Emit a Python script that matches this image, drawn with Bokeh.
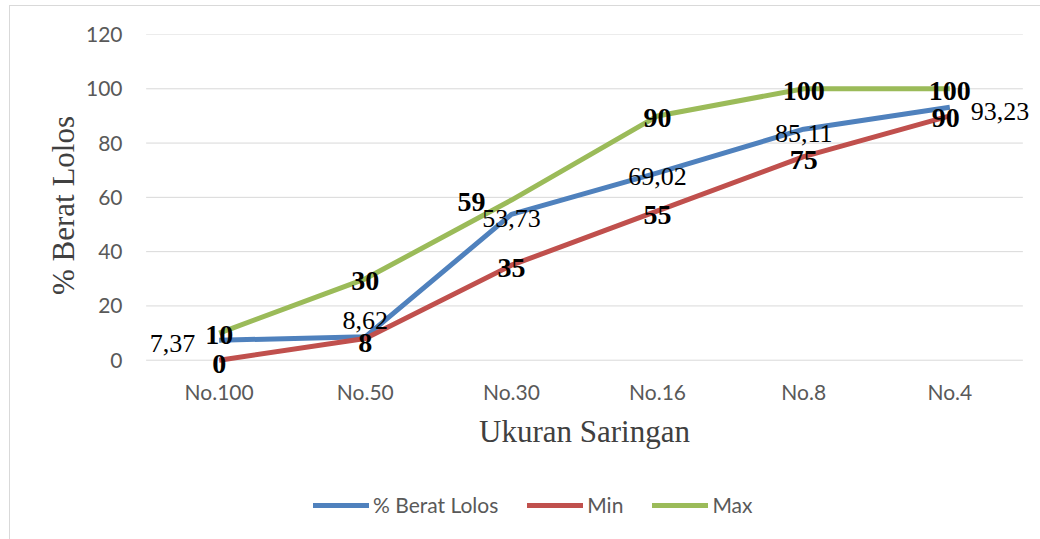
from bokeh.plotting import figure
from bokeh.layouts import column
from bokeh.models import ColumnDataSource, FactorRange, Range1d, Legend, LegendItem, LabelSet
from bokeh.embed import file_html
from bokeh.resources import INLINE

categories = ["No.100", "No.50", "No.30", "No.16", "No.8", "No.4"]
berat_lolos = [7.37, 8.62, 53.73, 69.02, 85.11, 93.23]
min_vals = [0, 8, 35, 55, 75, 90]
max_vals = [10, 30, 59, 90, 100, 100]
y_ticks = [0, 20, 40, 60, 80, 100, 120]
series_names = ["% Berat Lolos", "Min", "Max"]

BLUE = "#4F81BD"
RED = "#C0504D"
GREEN = "#9BBB59"
BORDER = "1px solid #D9D9D9"

p = figure(
    x_range=FactorRange(*categories, range_padding=0.1, range_padding_units="absolute"),
    y_range=Range1d(-6, 120),
    width=1030, height=464,
    frame_width=905, frame_height=341,
    output_backend="svg", toolbar_location=None,
    min_border_left=121, min_border_right=4, min_border_top=28, min_border_bottom=95,
)
p.outline_line_color = None
p.background_fill_color = "white"
p.border_fill_color = "white"
p.styles = {"border-left": BORDER, "border-top": BORDER,
            "margin-left": "9px", "margin-top": "5px"}

# horizontal gridlines spanning exactly the category band
grid_src = ColumnDataSource(dict(
    x0=[(categories[0], -0.5)] * len(y_ticks),
    x1=[(categories[-1], 0.5)] * len(y_ticks),
    y=y_ticks,
))
p.segment(x0="x0", y0="y", x1="x1", y1="y", source=grid_src, line_color="#D9D9D9", line_width=1)

p.line(categories, berat_lolos, line_color=BLUE, line_width=5, line_join="round")
p.line(categories, min_vals, line_color=RED, line_width=5, line_join="round")
p.line(categories, max_vals, line_color=GREEN, line_width=5, line_join="round")

# label styling (offsets in screen pixels, positive y = up)
blue_src = ColumnDataSource(dict(
    x=categories, y=berat_lolos,
    t=[f"{v:.2f}".replace(".", ",") for v in berat_lolos],
    align=["right", "center", "center", "center", "center", "left"],
    xo=[-24, 0, 0, 0, 0, 21],
    yo=[-3, 16, -4, -4, -4, -4],
))
max_src = ColumnDataSource(dict(
    x=categories, y=max_vals, t=[str(v) for v in max_vals],
    xo=[0, 0, -40, 0, 0, 0], yo=[-2, -2, -2, -2, -2, -2],
))
min_src = ColumnDataSource(dict(
    x=categories, y=min_vals, t=[str(v) for v in min_vals],
    xo=[0, 0, 0, 0, 0, -4], yo=[-4, -4, -3, -4, -3, -2],
))

for src, bold, size in ((blue_src, False, "26px"), (max_src, True, "28px"), (min_src, True, "28px")):
    p.add_layout(LabelSet(
        x="x", y="y", text="t", source=src,
        x_offset="xo", y_offset="yo",
        text_align="align" if src is blue_src else "center",
        text_baseline="middle",
        text_font="Liberation Serif",
        text_font_style="bold" if bold else "normal",
        text_font_size=size, text_color="black",
    ))

# axes
p.yaxis.ticker = y_ticks
p.yaxis.axis_line_color = None
p.yaxis.major_tick_line_color = None
p.yaxis.minor_tick_line_color = None
p.yaxis.major_label_text_font = "Lato"
p.yaxis.major_label_text_font_size = "21px"
p.yaxis.major_label_text_color = "#595959"
p.yaxis.major_label_standoff = 3
p.yaxis.axis_label = "% Berat Lolos"
p.yaxis.axis_label_text_font = "Liberation Serif"
p.yaxis.axis_label_text_font_style = "normal"
p.yaxis.axis_label_text_font_size = "31px"
p.yaxis.axis_label_text_color = "#404040"
p.yaxis.axis_label_standoff = 2

p.xaxis.axis_line_color = None
p.xaxis.major_tick_line_color = None
p.xaxis.minor_tick_line_color = None
p.xaxis.major_label_text_font = "Lato"
p.xaxis.major_label_text_font_size = "21px"
p.xaxis.major_label_text_color = "#595959"
p.xaxis.major_label_standoff = -4
p.xaxis.axis_label = "Ukuran Saringan"
p.xaxis.axis_label_text_font = "Liberation Serif"
p.xaxis.axis_label_text_font_style = "normal"
p.xaxis.axis_label_text_font_size = "31px"
p.xaxis.axis_label_text_color = "#404040"
p.xaxis.axis_label_standoff = 7

p.xgrid.grid_line_color = None
p.ygrid.grid_line_color = None

# legend strip below the chart
lg = figure(
    width=1030, height=69,
    x_range=Range1d(0, 1), y_range=Range1d(0, 1),
    x_axis_type=None, y_axis_type=None,
    output_backend="svg", toolbar_location=None,
    min_border=0,
)
lg.outline_line_color = None
lg.background_fill_color = "white"
lg.border_fill_color = "white"
lg.xgrid.grid_line_color = None
lg.ygrid.grid_line_color = None
lg.styles = {"border-left": BORDER, "margin-left": "9px"}

items = []
nan = float("nan")
for name, color in zip(series_names, [BLUE, RED, GREEN]):
    r = lg.line(x=[nan], y=[nan], line_color=color, line_width=5, line_cap="round")
    items.append(LegendItem(label=name, renderers=[r]))

legend = Legend(
    items=items,
    orientation="horizontal",
    location=(182, 22),
    glyph_width=56, glyph_height=20,
    label_text_font="Lato", label_text_font_size="21px", label_text_color="#595959",
    label_standoff=4, spacing=29, padding=0, margin=0,
    border_line_alpha=0, background_fill_alpha=0,
)
lg.add_layout(legend, "center")

open("out.html", "w").write(file_html(column(p, lg, spacing=0), INLINE))
